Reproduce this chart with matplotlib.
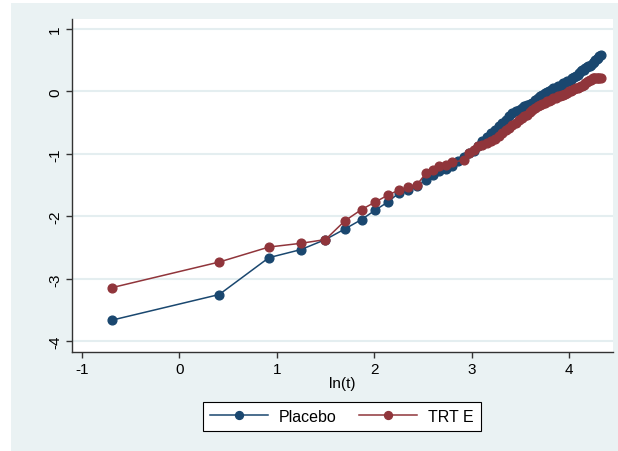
import numpy as np
import matplotlib
matplotlib.use('Agg')
import matplotlib.pyplot as plt
from matplotlib.patches import Rectangle

plt.rcParams['font.family'] = ['Liberation Sans', 'DejaVu Sans']
plt.rcParams['axes.unicode_minus'] = False

# ln(t) and ln(-ln(S(t)))
placebo_x = [-0.69, 0.41, 0.92, 1.25, 1.50, 1.70, 1.87, 2.01, 2.14, 2.25, 2.35, 2.44, 2.53, 2.60,
             2.67, 2.74, 2.80, 2.86, 2.92, 2.97,
             3.02, 3.07, 3.11, 3.157, 3.199, 3.239, 3.277, 3.314, 3.35, 3.384, 3.418, 3.45, 3.481,
             3.512, 3.541, 3.57, 3.597, 3.624, 3.651, 3.676, 3.701, 3.726, 3.75, 3.773, 3.795,
             3.818, 3.839, 3.861, 3.882, 3.902, 3.922, 3.942, 3.961, 3.98, 3.998, 4.016, 4.034,
             4.052, 4.069, 4.086, 4.103, 4.119, 4.135, 4.151, 4.167, 4.182, 4.197, 4.212, 4.227,
             4.241, 4.256, 4.27, 4.284, 4.297, 4.311, 4.324]
placebo_y = [-3.66, -3.25, -2.66, -2.53, -2.37, -2.20, -2.05, -1.90, -1.77, -1.63, -1.58, -1.51, -1.42, -1.33,
             -1.28, -1.24, -1.19, -1.12, -1.05, -0.98,
             -0.95, -0.87, -0.80, -0.73, -0.66, -0.61, -0.55, -0.50, -0.45, -0.40, -0.35, -0.31, -0.29,
             -0.27, -0.24, -0.22, -0.20, -0.18, -0.14, -0.11, -0.08, -0.05, -0.03, -0.01, 0.01,
             0.03, 0.05, 0.06, 0.08, 0.09, 0.11, 0.13, 0.14, 0.16, 0.17, 0.19, 0.21,
             0.23, 0.25, 0.27, 0.30, 0.32, 0.34, 0.35, 0.37, 0.39, 0.40, 0.41, 0.43,
             0.45, 0.47, 0.50, 0.52, 0.54, 0.57, 0.59]

trt_x = [-0.69, 0.41, 0.92, 1.25, 1.50, 1.70, 1.87, 2.01, 2.14, 2.25, 2.35, 2.44, 2.53, 2.60,
         2.67, 2.74, 2.80, 2.92, 2.97,
         3.02, 3.07, 3.11, 3.157, 3.199, 3.239, 3.277, 3.314, 3.35, 3.384, 3.418, 3.45, 3.481,
         3.512, 3.541, 3.57, 3.597, 3.624, 3.651, 3.676, 3.701, 3.726, 3.75, 3.773, 3.795,
         3.818, 3.839, 3.861, 3.882, 3.902, 3.922, 3.942, 3.961, 3.98, 3.998, 4.016, 4.034,
         4.052, 4.069, 4.086, 4.103, 4.119, 4.135, 4.151, 4.167, 4.182, 4.197, 4.212, 4.227,
         4.241, 4.256, 4.27, 4.284, 4.297, 4.311, 4.324]
trt_y = [-3.14, -2.73, -2.49, -2.43, -2.37, -2.07, -1.89, -1.77, -1.66, -1.58, -1.53, -1.49, -1.31, -1.26,
         -1.20, -1.17, -1.13, -1.10, -0.99,
         -0.93, -0.88, -0.85, -0.82, -0.79, -0.76, -0.71, -0.66, -0.62, -0.58, -0.54, -0.50, -0.46,
         -0.43, -0.40, -0.37, -0.33, -0.30, -0.27, -0.24, -0.22, -0.20, -0.18, -0.16, -0.15,
         -0.13, -0.11, -0.10, -0.08, -0.07, -0.06, -0.05, -0.04, -0.02, 0.00, 0.01, 0.03,
         0.04, 0.05, 0.06, 0.07, 0.08, 0.09, 0.11, 0.13, 0.15, 0.16, 0.18, 0.19,
         0.21, 0.22, 0.22, 0.22, 0.22, 0.22, 0.22]

xticks = [-1, 0, 1, 2, 3, 4]
yticks = [-4, -3, -2, -1, 0, 1]

bg = '#eaf2f3'
blue = '#1a476f'
red = '#90353b'

fig = plt.figure(figsize=(6.18, 4.52), dpi=100, facecolor='white')
fig.patches.append(Rectangle((11/618, 0), 1 - 11/618, 1 - 4/452, transform=fig.transFigure,
                             facecolor=bg, edgecolor='none', zorder=-10))

ax = fig.add_axes([72/618, 99/452, 541/618, 333/452])
ax.set_facecolor('white')
ax.plot(placebo_x, placebo_y, '-o', color=blue, lw=1.1, ms=6.3, label='Placebo')
ax.plot(trt_x, trt_y, '-o', color=red, lw=1.1, ms=6.3, label='TRT E')

ax.set_xlim(-1.10, 4.45)
ax.set_ylim(-4.17, 1.16)
ax.set_xticks(xticks)
ax.set_yticks(yticks)
ax.yaxis.grid(True, color='#e4eef0', lw=1.5)
ax.set_axisbelow(True)
for s in ['top', 'right']:
    ax.spines[s].set_visible(False)
for s in ['left', 'bottom']:
    ax.spines[s].set_color('#333333')
    ax.spines[s].set_linewidth(1.0)
ax.tick_params(length=4, width=1, color='#333333', labelsize=11, pad=3)
ax.tick_params(axis='y', labelrotation=90)
for lab in ax.get_yticklabels():
    lab.set_va('center')
ax.set_xlabel('ln(t)', fontsize=11, labelpad=0)

fig.legend(loc='center', bbox_to_anchor=(342/618, 1 - 417.5/452), ncol=2, fontsize=11.5,
           frameon=True, fancybox=False, edgecolor='black', framealpha=1,
           handlelength=3.6, columnspacing=1.4, borderpad=0.45, handletextpad=0.7,
           borderaxespad=0, markerscale=0.9).get_frame().set_linewidth(0.8)

fig.savefig('out.png', dpi=100)
